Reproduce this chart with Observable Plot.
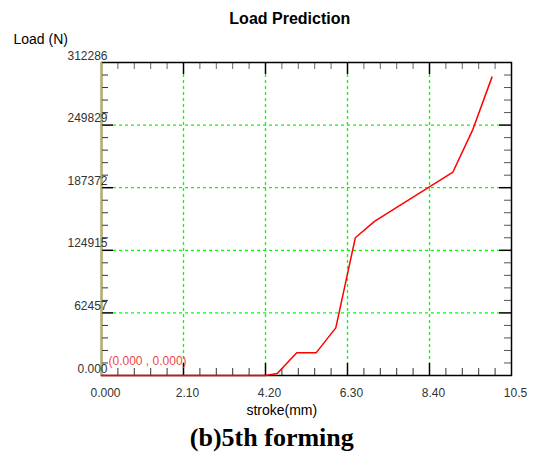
<!DOCTYPE html>
<html>
<head>
<meta charset="utf-8">
<script src="https://cdn.jsdelivr.net/npm/d3@7"></script>
<script src="https://cdn.jsdelivr.net/npm/@observablehq/plot@0.6"></script>
<style>
  html, body { margin: 0; padding: 0; background: #fff; }
</style>
</head>
<body>
<div id="chart"></div>
<script>
// Data
const strokeMm = [0, 4.2, 4.5, 5.0, 5.5, 6.0, 6.5, 7.0, 9.0, 9.5, 10.0];
const loadN    = [0, 0, 2000, 22800, 22800, 47500, 137400, 154000, 203000, 244500, 297700];

const xTickValues = [0, 2.1, 4.2, 6.3, 8.4, 10.5];
const xTickLabels = ["0.000", "2.10", "4.20", "6.30", "8.40", "10.5"];
const yTickValues = [0, 62457, 124915, 187372, 249829, 312286];
const yTickLabels = ["0.000", "62457", "124915", "187372", "249829", "312286"];

const titleText = "Load Prediction";
const yLabelText = "Load (N)";
const xLabelText = "stroke(mm)";
const captionText = "(b)5th forming";
const originText = "(0.000 , 0.000)";

const data = strokeMm.map((s, i) => ({stroke: s, load: loadN[i]}));

const W = 534, H = 452;
const mL = 101, mR = 23, mT = 62, mB = 77;
const fw = W - mL - mR, fh = H - mT - mB;
const sans = "Liberation Sans, Arial, Helvetica, sans-serif";
const serif = "Liberation Serif, Times New Roman, serif";

const xMinor = d3.range(1, 25).map(k => k * 0.42).filter((v, i) => (i + 1) % 5 !== 0);
const yStep = 312286 / 25;
const yMinor = d3.range(1, 25).map(k => k * yStep).filter((v, i) => (i + 1) % 5 !== 0);
const xInner = xTickValues.slice(1, -1);
const yInner = yTickValues.slice(1, -1);

const green = "#00ff00";
const chart = Plot.plot({
  width: W, height: H,
  marginLeft: mL, marginRight: mR, marginTop: mT, marginBottom: mB,
  style: {fontFamily: sans, background: "#fff"},
  x: {domain: [0, 10.5], axis: null},
  y: {domain: [0, 312286], axis: null},
  marks: [
    // grid
    Plot.ruleX(xInner, {x: d => d, stroke: green, strokeWidth: 1.3, strokeDasharray: "3,3", insetTop: 12, insetBottom: 12}),
    Plot.ruleY(yInner, {y: d => d, stroke: green, strokeWidth: 1.3, strokeDasharray: "3,3", insetLeft: 12, insetRight: 12}),
    // minor ticks
    Plot.ruleX(xMinor, {x: d => d, stroke: "#666", insetBottom: fh - 7}),
    Plot.ruleX(xMinor, {x: d => d, stroke: "#333", insetTop: fh - 7}),
    Plot.ruleY(yMinor, {y: d => d, stroke: "#333", insetRight: fw - 7}),
    Plot.ruleY(yMinor, {y: d => d, stroke: "#555", insetLeft: fw - 7}),
    // major ticks
    Plot.ruleX(xInner, {x: d => d, stroke: "#000", strokeWidth: 1.5, insetBottom: fh - 12}),
    Plot.ruleX(xInner, {x: d => d, stroke: "#000", strokeWidth: 1.5, insetTop: fh - 12}),
    Plot.ruleY(yInner, {y: d => d, stroke: "#000", strokeWidth: 1.5, insetRight: fw - 12}),
    Plot.ruleY(yInner, {y: d => d, stroke: "#000", strokeWidth: 1.5, insetLeft: fw - 12}),
    // frame
    Plot.frame({stroke: "#000", strokeWidth: 1.5}),
    Plot.ruleX([0], {stroke: "#c8b800", strokeWidth: 1.5}),
    // data line
    Plot.line(data, {x: "stroke", y: "load", stroke: "#ff0000", strokeWidth: 1.5}),
    // tick labels
    Plot.text(xTickValues, {x: d => d, text: (d, i) => xTickLabels[i], frameAnchor: "bottom",
      lineAnchor: "bottom", dy: 21.5, dx: 4, fill: "#333", fontSize: 12}),
    Plot.text(yTickValues, {y: d => d, text: (d, i) => yTickLabels[i], frameAnchor: "left",
      textAnchor: "end", lineAnchor: "bottom", dx: 6, dy: -3, fill: "#333", fontSize: 12}),
    // origin annotation
    Plot.text([originText], {text: d => d, frameAnchor: "bottom-left", textAnchor: "start",
      lineAnchor: "bottom", dx: 7, dy: -11, fill: "#f04848", fontSize: 12}),
    // titles
    Plot.text([titleText], {text: d => d, frameAnchor: "top", lineAnchor: "bottom",
      dx: -16.7, dy: -38.3, fill: "#000", fontSize: 16, fontWeight: "bold"}),
    Plot.text([yLabelText], {text: d => d, frameAnchor: "top-left", textAnchor: "start", lineAnchor: "bottom",
      dx: -88, dy: -18.3, fill: "#000", fontSize: 14}),
    Plot.text([xLabelText], {text: d => d, frameAnchor: "bottom", lineAnchor: "bottom",
      dx: -24.7, dy: 39, fill: "#000", fontSize: 14}),
    Plot.text([captionText], {text: d => d, frameAnchor: "bottom", lineAnchor: "bottom",
      dx: -34.7, dy: 70, fill: "#000", fontSize: 26, fontWeight: "bold", fontFamily: serif})
  ]
});
document.getElementById("chart").appendChild(chart);
</script>
</body>
</html>
